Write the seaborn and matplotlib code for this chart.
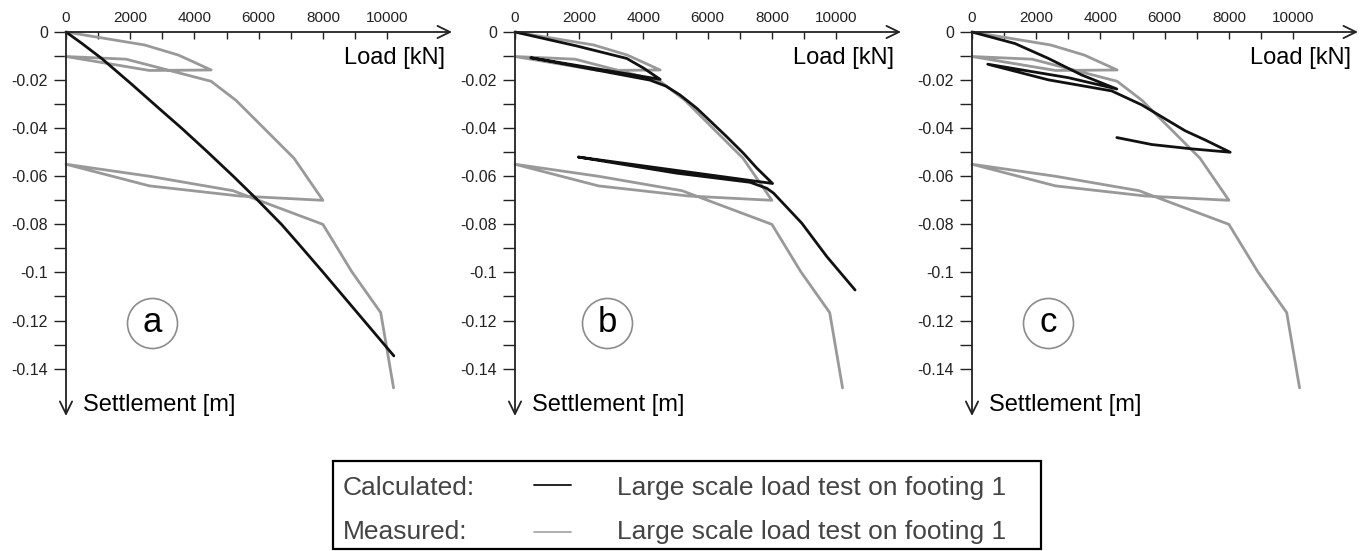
import matplotlib
matplotlib.use("Agg")
import matplotlib.pyplot as plt
from matplotlib.lines import Line2D
from matplotlib.patches import Rectangle
import pandas as pd
import seaborn as sns

# measured load test (same in every panel)
meas_load = [0, 2450, 3500, 4520, 2600, 0, 1870, 4520, 5300, 7100, 8000,
             5400, 2600, 0, 2600, 5200, 8000, 8900, 9800, 10200]
meas_settle = [0, -0.0054, -0.0096, -0.0158, -0.0160, -0.0102, -0.0113, -0.0205,
               -0.0285, -0.0525, -0.0700, -0.0682, -0.0640, -0.0550, -0.0600,
               -0.0660, -0.0800, -0.0997, -0.1167, -0.1480]

# calculated, panel a
calc_a_load = [0, 500, 1110, 2000, 3000, 3600, 4400, 5210, 5900, 6710, 7300,
               8010, 9100, 10210]
calc_a_settle = [0, -0.0048, -0.0110, -0.0212, -0.0330, -0.0400, -0.0498, -0.0600,
                 -0.0690, -0.0800, -0.0890, -0.1000, -0.1172, -0.1347]

# calculated, panel b
calc_b_load = [0, 1920, 3480, 4000, 4520, 490, 4200, 4700, 5140, 5660, 6590, 7110,
               7530, 8020, 1970, 5030, 7320, 7840, 8050, 8930, 9710, 10590]
calc_b_settle = [0, -0.0058, -0.0110, -0.0150, -0.0197, -0.0107, -0.0200, -0.0225,
                 -0.0262, -0.0317, -0.0435, -0.0504, -0.0566, -0.0630, -0.0520,
                 -0.0587, -0.0625, -0.0650, -0.0670, -0.0795, -0.0934, -0.1073]

# calculated, panel c
calc_c_load = [0, 1340, 2380, 3420, 4510, 3000, 490, 2380, 4350, 5285, 6640, 7260,
               8040, 6840, 5600, 4510]
calc_c_settle = [0, -0.0048, -0.0110, -0.0179, -0.0237, -0.0190, -0.0134, -0.0199,
                 -0.0245, -0.0303, -0.0411, -0.0449, -0.0500, -0.0486, -0.0468,
                 -0.0439]

panel_tags = ["a", "b", "c"]
tag_pos = [(2680, -0.121), (2866, -0.121), (2370, -0.121)]
x_major = [0, 2000, 4000, 6000, 8000, 10000]
x_minor = [1000, 3000, 5000, 7000, 9000]
y_major = [0, -0.02, -0.04, -0.06, -0.08, -0.1, -0.12, -0.14]
y_major_labels = ["0", "-0.02", "-0.04", "-0.06", "-0.08", "-0.1", "-0.12", "-0.14"]
y_minor = [-0.01, -0.03, -0.05, -0.07, -0.09, -0.11, -0.13]
legend_rows = ["Calculated:", "Measured:"]
legend_desc = "Large scale load test on footing 1"

CALC_COLOR = "#111111"
MEAS_COLOR = "#999999"
TEXT_COLOR = "#222222"

sns.set_style("white")
plt.rcParams["font.family"] = ["Liberation Sans", "DejaVu Sans"]

fig = plt.figure(figsize=(13.7, 5.51), dpi=100)
W, H = 1370, 551
lefts = [66, 515, 972]
calc_sets = [(calc_a_load, calc_a_settle), (calc_b_load, calc_b_settle),
             (calc_c_load, calc_c_settle)]

meas_df = pd.DataFrame({"load": meas_load, "settle": meas_settle})

for left, (cl, cs), tag, (tx, ty) in zip(lefts, calc_sets, panel_tags, tag_pos):
    ax = fig.add_axes([left / W, 1 - 416 / H, 386 / W, 384 / H])
    ax.set_facecolor("none")
    calc_df = pd.DataFrame({"load": cl, "settle": cs})
    sns.lineplot(data=meas_df, x="load", y="settle", sort=False, estimator=None,
                 color=MEAS_COLOR, lw=2.0, ax=ax)
    sns.lineplot(data=calc_df, x="load", y="settle", sort=False, estimator=None,
                 color=CALC_COLOR, lw=2.0, ax=ax)
    for line in ax.lines:
        line.set_clip_on(False)
        line.set_solid_joinstyle("round")

    ax.set_xlim(0, 12020)
    ax.set_ylim(-0.1597, 0)
    for sp in ax.spines.values():
        sp.set_visible(False)
    ax.set_xlabel("")
    ax.set_ylabel("")

    ax.xaxis.tick_top()
    ax.set_xticks(x_major)
    ax.set_xticks(x_minor, minor=True)
    ax.tick_params(axis="x", which="both", direction="in", length=5, width=1,
                   color=TEXT_COLOR, top=True, bottom=False, labeltop=True,
                   labelbottom=False, labelsize=11, labelcolor=TEXT_COLOR, pad=5)
    ax.set_yticks(y_major)
    ax.set_yticklabels(y_major_labels)
    ax.set_yticks(y_minor, minor=True)
    ax.tick_params(axis="y", which="both", direction="out", length=9, width=1,
                   color=TEXT_COLOR, left=True, labelsize=11.5,
                   labelcolor=TEXT_COLOR, pad=4)

    # axis arrows
    arrow = dict(arrowstyle="->,head_length=0.45,head_width=0.22", lw=1.3,
                 color=TEXT_COLOR, mutation_scale=20, shrinkA=0, shrinkB=0)
    ax.annotate("", xy=(1, 1), xytext=(0, 1), xycoords="axes fraction",
                arrowprops=arrow)
    ax.annotate("", xy=(0, 0), xytext=(0, 1), xycoords="axes fraction",
                arrowprops=arrow)

    ax.text(0.982, 0.932, "Load [kN]", transform=ax.transAxes, ha="right",
            va="center", fontsize=17, color="black")
    ax.text(0.044, 0.029, "Settlement [m]", transform=ax.transAxes, ha="left",
            va="center", fontsize=17, color="black")

    ax.scatter([tx], [ty], s=1296, facecolor="white", edgecolor="#8c8c8c",
               linewidth=1.2, zorder=5, clip_on=False)
    ax.text(tx, ty, tag, ha="center", va="center", fontsize=25, color="black",
            zorder=6)

# legend box
fig.patches.append(Rectangle((333 / W, 1 - 549 / H), 708 / W, 88 / H,
                             transform=fig.transFigure, fill=False,
                             edgecolor="black", lw=1.6))
row_base = [495, 539]
row_line_y = [485, 532]
row_colors = [CALC_COLOR, "#aaaaaa"]
for label, base, ly, col in zip(legend_rows, row_base, row_line_y, row_colors):
    fig.text(343 / W, 1 - base / H, label, ha="left", va="baseline",
             fontsize=19, color="#444444")
    fig.lines.append(Line2D([534 / W, 571 / W], [1 - ly / H, 1 - ly / H],
                            transform=fig.transFigure, color=col, lw=1.3))
    fig.text(617 / W, 1 - base / H, legend_desc, ha="left", va="baseline",
             fontsize=19, color="#444444")

fig.savefig("out.png", dpi=100)
